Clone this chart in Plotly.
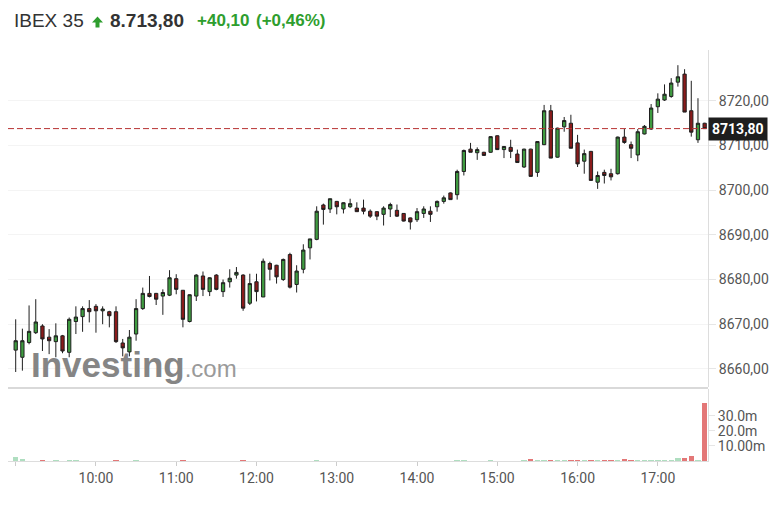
import pandas as pd
import plotly.graph_objects as go

# ---- data (5-minute candles, IBEX 35) ----
opens = [8664.2, 8662.6, 8665.9, 8668.1, 8669.6, 8667.1, 8666.1, 8667.4, 8663.7, 8670.6,
         8671.7, 8673.5, 8674.0, 8673.0, 8672.8, 8672.8, 8665.8, 8663.8, 8667.8, 8673.5,
         8676.9, 8676.9, 8676.3, 8676.5, 8680.2, 8677.6, 8670.6, 8676.3, 8680.8, 8677.3,
         8681.0, 8677.3, 8679.5, 8681.0, 8681.0, 8674.7, 8679.5, 8676.1, 8683.6, 8683.2,
         8680.0, 8685.6, 8678.9, 8682.3, 8687.1, 8689.0, 8696.7, 8695.8, 8697.5, 8695.8,
         8696.3, 8696.0, 8696.0, 8695.3, 8695.2, 8694.6, 8695.8, 8695.5, 8694.8, 8693.8,
         8693.4, 8694.8, 8695.3, 8696.3, 8697.5, 8699.4, 8699.0, 8704.2, 8709.2, 8708.4,
         8708.5, 8708.5, 8712.2, 8709.1, 8709.6, 8708.1, 8705.2, 8709.2, 8704.0, 8710.2,
         8717.8, 8707.4, 8714.2, 8715.0, 8710.6, 8706.5, 8708.7, 8701.8, 8704.0, 8703.7,
         8703.7, 8711.9, 8710.2, 8707.9, 8712.6, 8713.7, 8718.7, 8720.2, 8721.0, 8724.2,
         8726.0, 8717.8, 8711.3, 8715.0]
highs = [8671.1, 8669.0, 8674.2, 8675.6, 8670.0, 8668.9, 8670.2, 8667.6, 8671.5, 8674.0,
         8674.0, 8675.4, 8674.5, 8674.0, 8673.0, 8674.0, 8666.7, 8668.7, 8675.6, 8678.2,
         8680.8, 8677.0, 8677.8, 8682.1, 8681.2, 8677.6, 8676.7, 8681.2, 8681.8, 8680.5,
         8681.2, 8680.0, 8682.3, 8682.8, 8681.2, 8681.3, 8681.3, 8684.7, 8684.0, 8683.3,
         8684.7, 8686.0, 8683.2, 8687.9, 8689.1, 8696.4, 8697.0, 8698.1, 8697.6, 8697.3,
         8698.1, 8697.3, 8697.9, 8695.7, 8695.3, 8696.4, 8697.2, 8696.8, 8694.9, 8693.9,
         8696.0, 8696.4, 8696.4, 8697.7, 8698.8, 8699.5, 8704.6, 8709.1, 8710.6, 8709.6,
         8708.6, 8712.1, 8712.3, 8709.9, 8711.3, 8709.1, 8709.3, 8709.3, 8711.0, 8719.1,
         8719.1, 8714.0, 8716.4, 8716.9, 8712.4, 8709.1, 8708.8, 8704.2, 8704.6, 8704.8,
         8712.0, 8713.7, 8710.9, 8713.7, 8714.6, 8719.3, 8721.7, 8723.7, 8725.1, 8728.0,
         8727.1, 8724.5, 8720.6, 8715.1]
lows = [8659.3, 8659.6, 8665.5, 8667.8, 8664.0, 8663.3, 8662.6, 8663.5, 8662.6, 8667.8,
        8668.3, 8670.4, 8668.1, 8670.0, 8669.3, 8665.8, 8662.8, 8662.8, 8666.3, 8673.2,
        8676.0, 8674.3, 8672.1, 8676.3, 8676.7, 8669.3, 8670.4, 8675.2, 8676.3, 8676.3,
        8677.6, 8676.1, 8678.2, 8680.2, 8673.0, 8674.3, 8675.1, 8676.1, 8679.8, 8679.1,
        8679.7, 8678.0, 8677.1, 8681.4, 8684.5, 8688.8, 8692.3, 8694.9, 8694.6, 8694.8,
        8696.0, 8695.2, 8694.6, 8693.8, 8693.3, 8692.1, 8694.0, 8694.0, 8693.0, 8691.2,
        8692.9, 8693.8, 8692.9, 8695.2, 8697.0, 8697.9, 8697.9, 8703.3, 8708.5, 8706.8,
        8707.7, 8708.4, 8709.0, 8707.2, 8707.2, 8706.2, 8705.0, 8703.1, 8703.0, 8710.1,
        8707.2, 8707.3, 8713.1, 8709.4, 8705.2, 8703.7, 8702.2, 8700.3, 8701.5, 8702.2,
        8703.5, 8710.4, 8707.2, 8706.5, 8712.5, 8713.5, 8717.3, 8720.0, 8720.7, 8723.2,
        8717.5, 8712.0, 8710.6, 8713.8]
closes = [8666.3, 8666.3, 8668.4, 8670.5, 8666.7, 8666.3, 8667.4, 8664.0, 8671.1, 8671.6,
          8673.5, 8672.8, 8673.0, 8673.4, 8671.9, 8666.1, 8664.7, 8667.1, 8673.5, 8676.9,
          8676.2, 8675.6, 8677.1, 8680.4, 8677.8, 8671.1, 8676.6, 8681.0, 8677.8, 8680.4,
          8677.8, 8679.3, 8680.3, 8681.6, 8673.6, 8679.1, 8677.3, 8684.1, 8682.3, 8680.6,
          8684.5, 8678.3, 8681.9, 8686.6, 8689.1, 8695.3, 8695.7, 8698.1, 8696.3, 8697.2,
          8697.0, 8695.2, 8695.3, 8694.2, 8694.2, 8696.0, 8696.8, 8694.2, 8693.1, 8692.9,
          8695.2, 8695.8, 8694.6, 8697.5, 8698.3, 8697.9, 8704.2, 8708.9, 8708.5, 8709.1,
          8707.8, 8712.0, 8709.1, 8709.8, 8708.7, 8706.2, 8709.2, 8703.1, 8710.9, 8717.8,
          8707.2, 8713.9, 8715.6, 8709.4, 8705.9, 8708.2, 8702.2, 8703.3, 8703.3, 8703.0,
          8711.9, 8710.7, 8709.4, 8713.1, 8714.3, 8718.4, 8720.4, 8721.5, 8724.0, 8725.4,
          8717.5, 8713.0, 8715.0, 8713.8]
volumes_m = [3.0, 1.2, 0.4, 0.4, 0.5, 0.4, 0.5, 0.4, 0.5, 0.8,
             0.4, 0.4, 0.4, 0.3, 0.4, 0.5, 0.4, 0.4, 0.5, 0.4,
             0.3, 0.4, 0.3, 0.4, 0.4, 0.5, 0.4, 0.4, 0.3, 0.3,
             0.4, 0.3, 0.3, 0.3, 0.5, 0.4, 0.3, 0.4, 0.3, 0.3,
             0.3, 0.4, 0.3, 0.4, 0.4, 0.5, 0.3, 0.3, 0.3, 0.3,
             0.3, 0.3, 0.3, 0.3, 0.3, 0.3, 0.3, 0.3, 0.3, 0.4,
             0.3, 0.3, 0.3, 0.3, 0.3, 0.3, 0.5, 0.5, 0.4, 0.3,
             0.3, 0.5, 0.4, 0.3, 0.4, 0.4, 0.5, 1.3, 0.6, 0.8,
             0.9, 0.6, 0.5, 0.6, 0.6, 1.0, 0.6, 0.6, 1.0, 0.5,
             0.7, 1.3, 0.6, 0.8, 0.9, 0.8, 0.9, 1.0, 1.1, 2.0,
             2.0, 3.5, 1.0, 39.0]

index_name = "IBEX 35"
last_price_text = "8.713,80"
change_text = "+40,10"
change_pct_text = "(+0,46%)"
last_price = 8713.80
last_price_label = "8713,80"
price_ticks = [8660, 8670, 8680, 8690, 8700, 8710, 8720]
price_tick_text = ["8660,00", "8670,00", "8680,00", "8690,00", "8700,00", "8710,00", "8720,00"]
vol_ticks_m = [10, 20, 30]
vol_tick_text = ["10.00m", "20.0m", "30.0m"]

times = pd.date_range("2024-01-01 09:00", periods=len(opens), freq="5min")
volumes = [v * 1e6 for v in volumes_m]

GREEN = "#3f9c40"
RED = "#8a1b1b"
UPGREEN = "#2e9e2e"
vol_colors = ["rgba(110,195,140,0.55)" if c >= o else "rgba(222,95,95,0.85)"
              for o, c in zip(opens, closes)]

# page body has an 8px margin: plot area spans pixels x 8..708, y 50..461
PL, PR, PT, PB = 8, 708, 50, 461


def px(x):
    return (x - PL) / (PR - PL)


def py(y):
    return (PB - y) / (PB - PT)


fig = go.Figure()
fig.add_trace(go.Candlestick(
    x=times, open=opens, high=highs, low=lows, close=closes,
    increasing=dict(fillcolor=GREEN, line=dict(color="#1f1f1f", width=1)),
    decreasing=dict(fillcolor=RED, line=dict(color="#1f1f1f", width=1)),
    whiskerwidth=0, showlegend=False, hoverinfo="skip",
    xaxis="x", yaxis="y"))
fig.add_trace(go.Bar(
    x=times, y=volumes, marker=dict(color=vol_colors, line=dict(width=0)),
    width=240000, showlegend=False, hoverinfo="skip",
    xaxis="x2", yaxis="y2"))

x_range = ["2024-01-01 08:54:15", "2024-01-01 17:37:30"]
sep = py(388)

fig.update_layout(
    width=773, height=501,
    margin=dict(l=0, r=73, t=42, b=48),
    paper_bgcolor="white", plot_bgcolor="white",
    font=dict(family="Roboto, sans-serif", size=14, color="#555"),
    xaxis=dict(domain=[0, 1], anchor="y", range=x_range, rangeslider=dict(visible=False),
               showticklabels=False, showgrid=False,
               zeroline=False, showline=False),
    xaxis2=dict(domain=[0, 1], anchor="y2", range=x_range, matches="x",
                showgrid=False,
                dtick=3600000, tick0="2024-01-01 10:00", tickformat="%H:%M",
                ticks="outside", ticklen=4, tickcolor="#cccccc",
                showline=True, linecolor="#dddddd", linewidth=1,
                tickfont=dict(family="Roboto, sans-serif", size=14, color="#555")),
    yaxis=dict(domain=[sep + 0.002, 1], anchor="x", side="right",
               range=[8655.9, 8731.4], tickvals=price_ticks, ticktext=price_tick_text,
               showgrid=True, gridcolor="#f4f4f4", zeroline=False,
               showline=True, linecolor="#dddddd", linewidth=1,
               ticks="outside", ticklen=7, tickcolor="#e6e6e6",
               tickfont=dict(family="Roboto, sans-serif", size=14, color="#555")),
    yaxis2=dict(domain=[0, sep - 0.002], anchor="x2", side="right",
                range=[0, 48e6], tickvals=[v * 1e6 for v in vol_ticks_m], ticktext=vol_tick_text,
                showgrid=False, zeroline=False,
                showline=True, linecolor="#dddddd", linewidth=1,
                ticks="outside", ticklen=6, tickcolor="#e6e6e6",
                tickfont=dict(family="Roboto, sans-serif", size=14, color="#555")),
    bargap=0,
)

# separator between price and volume panels
fig.add_shape(type="line", xref="paper", yref="paper", x0=0, x1=1, y0=sep, y1=sep,
              line=dict(color="#cccccc", width=1.5))
# last price dashed line
fig.add_shape(type="line", xref="paper", yref="y", x0=0, x1=1, y0=last_price, y1=last_price,
              line=dict(color="#b83232", width=1, dash="6px,3px"))

# last price label
fig.add_annotation(xref="paper", yref="y", x=1, y=last_price, xanchor="left", yanchor="middle",
                   text="<b>" + last_price_label + "</b>", showarrow=False, bgcolor="#1e1e1e",
                   font=dict(family="Roboto, sans-serif", size=14, color="white"),
                   borderpad=3)

# header texts
HDR_FONT = "Liberation Sans, Arial, sans-serif"
hy = py(21)
fig.add_annotation(xref="paper", yref="paper", x=px(12), y=hy, xanchor="left", yanchor="middle",
                   showarrow=False, text=index_name,
                   font=dict(family=HDR_FONT, size=19, color="#333"))
fig.add_annotation(xref="paper", yref="paper", x=px(108), y=hy, xanchor="left", yanchor="middle",
                   showarrow=False, text="<b>" + last_price_text + "</b>",
                   font=dict(family=HDR_FONT, size=19, color="#333"))
fig.add_annotation(xref="paper", yref="paper", x=px(195), y=hy, xanchor="left", yanchor="middle",
                   showarrow=False, text="<b>" + change_text + "</b>",
                   font=dict(family=HDR_FONT, size=17, color=UPGREEN))
fig.add_annotation(xref="paper", yref="paper", x=px(254), y=hy, xanchor="left", yanchor="middle",
                   showarrow=False, text="<b>" + change_pct_text + "</b>",
                   font=dict(family=HDR_FONT, size=17, color=UPGREEN))
# up arrow icon
arrow_pts = [(92, 22.5), (97.5, 16.5), (103, 22.5), (99.5, 22.5), (99.5, 27.5),
             (95.5, 27.5), (95.5, 22.5)]
path = "M " + " L ".join(f"{px(a):.5f},{py(b):.5f}" for a, b in arrow_pts) + " Z"
fig.add_shape(type="path", xref="paper", yref="paper", path=path,
              fillcolor=UPGREEN, line=dict(width=0))

# watermark
fig.add_annotation(xref="paper", yref="paper", x=px(29), y=py(364),
                   xanchor="left", yanchor="middle", showarrow=False,
                   text="<b>Investing</b><span style='font-size:24px;color:#9a9a9a'>.com</span>",
                   font=dict(family="Liberation Sans, Arial, sans-serif", size=35,
                             color="#858585"))

fig.write_html("out.html")
